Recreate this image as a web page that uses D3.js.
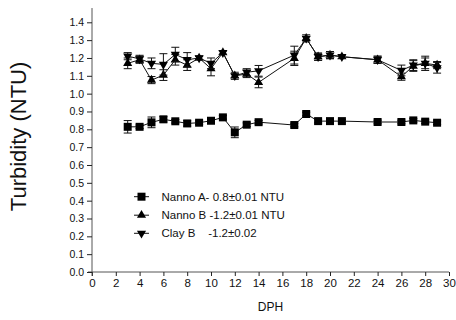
<!DOCTYPE html>
<html>
<head>
<meta charset="utf-8">
<script src="https://cdn.jsdelivr.net/npm/d3@7"></script>
<style>
  body { margin: 0; background: #fff; }
  svg { display: block; font-family: "Liberation Sans", Arial, sans-serif; }
</style>
</head>
<body>
<svg width="456" height="320"></svg>
<script>
// Data
const days = [3, 4, 5, 6, 7, 8, 9, 10, 11, 12, 13, 14, 17, 18, 19, 20, 21, 24, 26, 27, 28, 29];

const nannoA = [0.814, 0.814, 0.839, 0.856, 0.845, 0.833, 0.837, 0.848, 0.867, 0.783, 0.826, 0.840,
                0.824, 0.886, 0.846, 0.846, 0.846, 0.841, 0.841, 0.850, 0.843, 0.837];
const nannoAErr = [0.035, 0.01, 0.03, 0.015, 0.01, 0.015, 0.01, 0.01, 0.01, 0.03, 0.01, 0.01,
                   0.01, 0.01, 0.01, 0.01, 0.01, 0.01, 0.01, 0.01, 0.01, 0.01];

const nannoB = [1.17, 1.19, 1.076, 1.104, 1.19, 1.16, 1.20, 1.14, 1.23, 1.10, 1.11, 1.063,
                1.198, 1.31, 1.207, 1.216, 1.207, 1.19, 1.095, 1.155, 1.17, 1.16];
const nannoBErr = [0.03, 0.02, 0.02, 0.03, 0.03, 0.03, 0.01, 0.04, 0.01, 0.02, 0.02, 0.03,
                   0.04, 0.01, 0.02, 0.02, 0.01, 0.02, 0.02, 0.03, 0.03, 0.02];

const clayB = [1.21, 1.195, 1.17, 1.164, 1.22, 1.19, 1.20, 1.17, 1.23, 1.10, 1.12, 1.128,
               1.216, 1.31, 1.207, 1.216, 1.207, 1.19, 1.13, 1.16, 1.17, 1.145];
const clayBErr = [0.02, 0.02, 0.03, 0.06, 0.04, 0.04, 0.01, 0.03, 0.01, 0.01, 0.02, 0.03,
                  0.05, 0.02, 0.02, 0.02, 0.01, 0.02, 0.03, 0.03, 0.04, 0.03];

const seriesNames = ["Nanno A- 0.8\u00b10.01 NTU", "Nanno B -1.2\u00b10.01 NTU", "Clay B    -1.2\u00b10.02"];

const xTicks = d3.range(0, 31, 2);
const yTicks = d3.range(0, 15).map(d => d / 10);

const svg = d3.select("svg");

// Scales
const x = d3.scaleLinear().domain([0, 30]).range([92, 449]);
const y = d3.scaleLinear().domain([0, 1.4]).range([272, 22.3]);

// X axis
const xAxis = svg.append("g")
  .attr("transform", `translate(0, ${y(0)})`)
  .call(d3.axisBottom(x).tickValues(xTicks).tickSize(4).tickSizeOuter(0).tickPadding(3));
xAxis.select(".domain").attr("d", `M${x(0) - 4},0H${x(30)}`).attr("stroke", "#555");
xAxis.selectAll(".tick line").attr("stroke", "#222");
xAxis.selectAll("text").attr("font-size", 11.5).attr("fill", "#111")
  .attr("font-family", "Liberation Sans, Arial, sans-serif");

// Y axis
const yAxis = svg.append("g")
  .attr("transform", `translate(${x(0)}, 0)`)
  .call(d3.axisLeft(y).tickValues(yTicks).tickFormat(d3.format(".1f")).tickSize(5).tickSizeOuter(0).tickPadding(3));
yAxis.select(".domain").attr("d", `M0,${y(0) + 4}V${y(1.48)}`).attr("stroke", "#555");
yAxis.selectAll(".tick line").attr("stroke", "#222");
yAxis.selectAll("text").attr("font-size", 10.5).attr("fill", "#111")
  .attr("font-family", "Liberation Sans, Arial, sans-serif");

// Axis titles
svg.append("text")
  .attr("transform", `translate(26, ${y(0.76)}) rotate(-90)`)
  .attr("text-anchor", "middle")
  .attr("font-size", 22)
  .attr("fill", "#111")
  .text("Turbidity (NTU)");

svg.append("text")
  .attr("x", (x(0) + x(30)) / 2)
  .attr("y", 311)
  .attr("text-anchor", "middle")
  .attr("font-size", 12)
  .attr("fill", "#111")
  .text("DPH");

// Series
const sq = d3.symbol().type(d3.symbolSquare).size(64);
const tri = d3.symbol().type(d3.symbolTriangle).size(36);

const series = [
  { vals: nannoA, errs: nannoAErr, sym: sq, rot: 0 },
  { vals: nannoB, errs: nannoBErr, sym: tri, rot: 0 },
  { vals: clayB, errs: clayBErr, sym: tri, rot: 180 }
];

const line = d3.line()
  .x(d => x(d.day))
  .y(d => y(d.v));

series.forEach(s => {
  const pts = days.map((day, i) => ({ day, v: s.vals[i], e: s.errs[i] }));
  const g = svg.append("g");

  g.append("path")
    .datum(pts)
    .attr("fill", "none")
    .attr("stroke", "#111")
    .attr("stroke-width", 1)
    .attr("d", line);

  // error bars
  const eb = g.selectAll(".eb").data(pts).enter().append("g");
  eb.append("line")
    .attr("x1", d => x(d.day)).attr("x2", d => x(d.day))
    .attr("y1", d => y(d.v - d.e)).attr("y2", d => y(d.v + d.e))
    .attr("stroke", "#111");
  eb.append("line")
    .attr("x1", d => x(d.day) - 4).attr("x2", d => x(d.day) + 4)
    .attr("y1", d => y(d.v + d.e)).attr("y2", d => y(d.v + d.e))
    .attr("stroke", "#111");
  eb.append("line")
    .attr("x1", d => x(d.day) - 4).attr("x2", d => x(d.day) + 4)
    .attr("y1", d => y(d.v - d.e)).attr("y2", d => y(d.v - d.e))
    .attr("stroke", "#111");

  g.selectAll(".pt").data(pts).enter().append("path")
    .attr("d", s.sym())
    .attr("transform", d => `translate(${x(d.day)}, ${y(d.v)}) rotate(${s.rot})`)
    .attr("fill", "#000");
});

// Legend
const legend = svg.append("g");
const legRows = [196.7, 215.2, 233.3];
series.forEach((s, i) => {
  const row = legend.append("g").attr("transform", `translate(0, ${legRows[i]})`);
  row.append("line").attr("x1", 134).attr("x2", 149).attr("stroke", "#111");
  row.append("path")
    .attr("d", s.sym())
    .attr("transform", `translate(141.5, 0) rotate(${s.rot})`)
    .attr("fill", "#000");
  row.append("text")
    .attr("x", 161.5)
    .attr("dy", "0.36em")
    .attr("font-size", 11.5)
    .attr("fill", "#111")
    .style("white-space", "pre")
    .text(seriesNames[i]);
});
</script>
</body>
</html>
